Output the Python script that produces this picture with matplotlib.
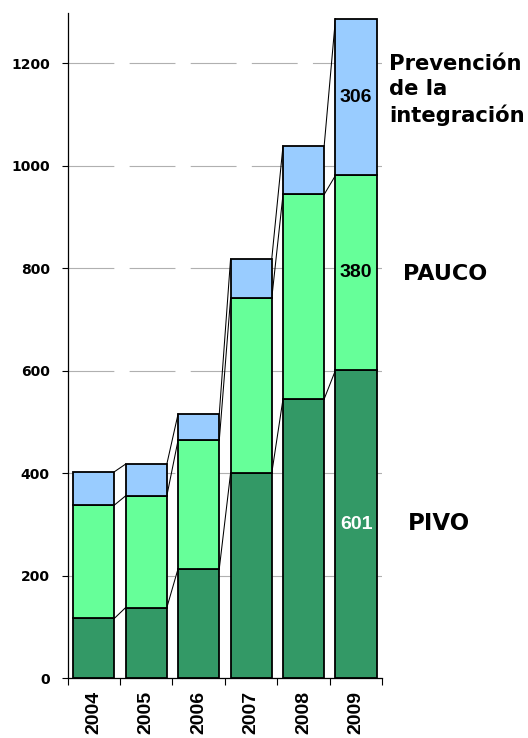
import matplotlib.pyplot as plt
import numpy as np

plt.rcParams['lines.scale_dashes'] = False

# values
years = ['2004', '2005', '2006', '2007', '2008', '2009']
pivo = [117, 138, 214, 400, 545, 601]
pauco = [221, 218, 251, 341, 399, 380]
prevencion = [65, 62, 51, 77, 95, 306]
series_names = ['PIVO', 'PAUCO', 'Prevención\nde la\nintegración']

c_pivo = '#339966'
c_pauco = '#66ff99'
c_prev = '#99ccff'

fig = plt.figure(figsize=(5.28, 7.38), dpi=100)
ax = fig.add_axes([0.128, 0.0809, 0.596, 0.9015])

x = np.arange(len(years))
w = 0.785
b1 = np.array(pivo)
b2 = b1 + np.array(pauco)
b3 = b2 + np.array(prevencion)

ax.bar(x, pivo, w, color=c_pivo, edgecolor='black', lw=1.3, zorder=3)
ax.bar(x, pauco, w, bottom=b1, color=c_pauco, edgecolor='black', lw=1.3, zorder=3)
ax.bar(x, prevencion, w, bottom=b2, color=c_prev, edgecolor='black', lw=1.3, zorder=3)

# series lines between the bars
for lvl in (b1, b2, b3):
    for i in range(len(x) - 1):
        ax.plot([x[i] + w / 2, x[i + 1] - w / 2], [lvl[i], lvl[i + 1]],
                color='black', lw=0.75, zorder=2)

ax.set_xlim(-0.5, len(years) - 0.5)
ax.set_ylim(0, 1298)

ax.set_yticks(range(0, 1201, 200))
ax.set_axisbelow(True)
ax.grid(axis='y', color='#b0b0b0', lw=0.8, linestyle=(0, (33, 11)))

for s in ['top', 'right']:
    ax.spines[s].set_visible(False)
ax.spines['left'].set_linewidth(0.9)
ax.spines['bottom'].set_linewidth(0.9)

ax.set_xticks(x, years)
ax.set_xticks(np.arange(-0.5, len(years), 1), minor=True)
ax.tick_params(axis='x', which='major', length=0, pad=9)
ax.tick_params(axis='x', which='minor', length=5, width=0.8)
for lab in ax.get_xticklabels():
    lab.set_rotation(90)
    lab.set_fontfamily('Liberation Sans')
    lab.set_fontweight('bold')
    lab.set_fontsize(14)

ax.tick_params(axis='y', length=4.3, width=0.8, pad=8.5)
for lab in ax.get_yticklabels():
    lab.set_fontfamily('DejaVu Sans')
    lab.set_fontweight('bold')
    lab.set_fontsize(10)

# values in the last bar
last = len(years) - 1
ax.text(x[last], pivo[last] / 2, str(pivo[last]), color='white', ha='center', va='center',
        family='Liberation Sans', fontweight='bold', fontsize=14, zorder=4)
ax.text(x[last], b1[last] + pauco[last] / 2, str(pauco[last]), color='black', ha='center', va='center',
        family='Liberation Sans', fontweight='bold', fontsize=14, zorder=4)
ax.text(x[last], b2[last] + prevencion[last] / 2, str(prevencion[last]), color='black', ha='center', va='center',
        family='Liberation Sans', fontweight='bold', fontsize=14, zorder=4)

# series names on the right
ax.text(1.081, 0.232, series_names[0], transform=ax.transAxes, ha='left', va='center',
        family='DejaVu Sans', fontweight='bold', fontsize=16.5, clip_on=False)
ax.text(1.066, 0.607, series_names[1], transform=ax.transAxes, ha='left', va='center',
        family='DejaVu Sans', fontweight='bold', fontsize=16, clip_on=False)
ax.text(1.021, 0.884, series_names[2], transform=ax.transAxes, ha='left', va='center',
        family='DejaVu Sans', fontweight='bold', fontsize=15.2, linespacing=1.32, clip_on=False)

fig.savefig('out.png', dpi=100)
